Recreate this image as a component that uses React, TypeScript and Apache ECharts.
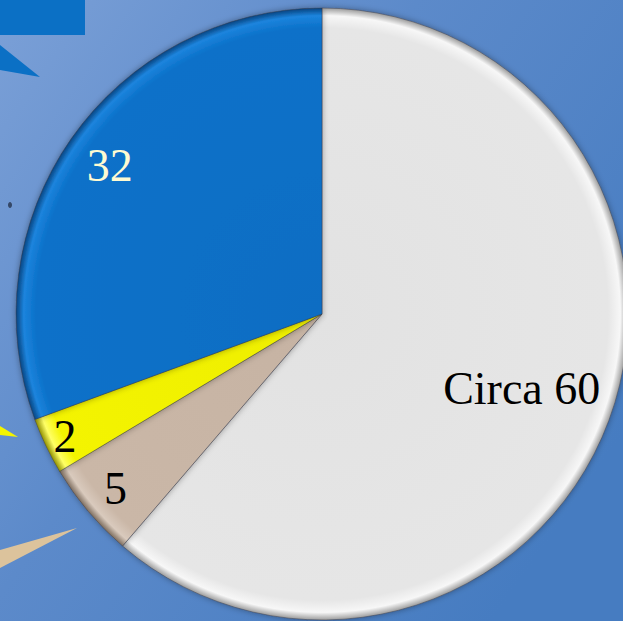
import React, { useEffect, useRef } from "react";
import * as echarts from "echarts";

// Slice shares as drawn (clockwise from 12 o'clock) and their printed labels
const sliceNames = ["Circa 60", "5", "2", "32"];
const sliceShares = [61.3, 5.1, 3.0, 30.6];
const sliceLabels = ["Circa 60", "5", "2", "32"];

const W = 623;
const H = 621;
const CX = 322;
const CY = 314;
const R = 306;

const sliceColors = [
  ["#e2e2e2", "#e6e6e6", "#f7f7f7", "#9c9c9c"],
  ["#c6b3a3", "#cab7a7", "#d9cabd", "#7d6d5e"],
  ["#eeee00", "#f4f400", "#ffff66", "#909000"],
  ["#0a6dc3", "#0b71c9", "#1c84dd", "#07437f"],
];
const labelColors = ["#000000", "#000000", "#000000", "#fffbd2"];
const labelRadii = [210, 267, 282, 256];

function fill(c: string[]) {
  return {
    type: "radial",
    x: CX,
    y: CY,
    r: R,
    global: true,
    colorStops: [
      { offset: 0, color: c[0] },
      { offset: 0.935, color: c[1] },
      { offset: 0.975, color: c[2] },
      { offset: 1, color: c[3] },
    ],
  };
}

export default function App() {
  const ref = useRef<HTMLDivElement>(null);
  useEffect(() => {
    document.body.style.margin = "0";
    const chart = echarts.init(ref.current!, null, { renderer: "svg" });
    const mainData = sliceShares.map((v, i) => ({
      name: sliceNames[i],
      value: v,
      itemStyle: { color: fill(sliceColors[i]) as any },
    }));
    const labelSeries = sliceLabels.map((_, k) => ({
      type: "pie",
      silent: true,
      center: [CX, CY],
      radius: [2 * labelRadii[k] - R, R],
      startAngle: 90,
      clockwise: true,
      avoidLabelOverlap: false,
      itemStyle: { color: "rgba(0,0,0,0)", borderWidth: 0 },
      labelLine: { show: false },
      data: sliceShares.map((v, i) => ({
        name: sliceNames[i],
        value: v,
        label: {
          show: i === k,
          position: "inside",
          formatter: sliceLabels[i],
          color: labelColors[i],
          fontFamily: "Liberation Serif, Times New Roman, serif",
          fontSize: 46,
          textBorderWidth: 0,
        },
      })),
    }));
    chart.setOption({
      animation: false,
      backgroundColor: {
        type: "linear",
        x: 0,
        y: 0,
        x2: 1,
        y2: 0.7,
        colorStops: [
          { offset: 0, color: "#7ba0d7" },
          { offset: 0.45, color: "#5c8aca" },
          { offset: 1, color: "#467cc1" },
        ],
      },
      graphic: [
        { type: "rect", shape: { x: 0, y: 0, width: 85, height: 35 }, style: { fill: "#0b70c5" } },
        { type: "polygon", shape: { points: [[0, 45], [40, 77], [0, 70]] }, style: { fill: "#0b70c5" } },
        { type: "polygon", shape: { points: [[0, 426], [18, 437], [0, 435]] }, style: { fill: "#f4f400" } },
        { type: "polygon", shape: { points: [[0, 550], [77, 528], [0, 568]] }, style: { fill: "#dcc39c" } },
        { type: "ellipse", shape: { cx: 10, cy: 205, rx: 2, ry: 3 }, style: { fill: "#2a3a55", opacity: 0.85 } },
      ],
      series: [
        {
          type: "pie",
          center: [CX, CY],
          radius: [0, R],
          startAngle: 90,
          clockwise: true,
          silent: true,
          avoidLabelOverlap: false,
          label: { show: false },
          labelLine: { show: false },
          itemStyle: {
            borderColor: "rgba(60,60,70,0.45)",
            borderWidth: 1,
            shadowBlur: 6,
            shadowColor: "rgba(0,0,0,0.35)",
          },
          data: mainData,
        },
        ...labelSeries,
      ],
    });
    return () => chart.dispose();
  }, []);
  return (
    <div
      ref={ref}
      style={{ position: "fixed", left: 0, top: 0, width: W, height: H }}
    />
  );
}
